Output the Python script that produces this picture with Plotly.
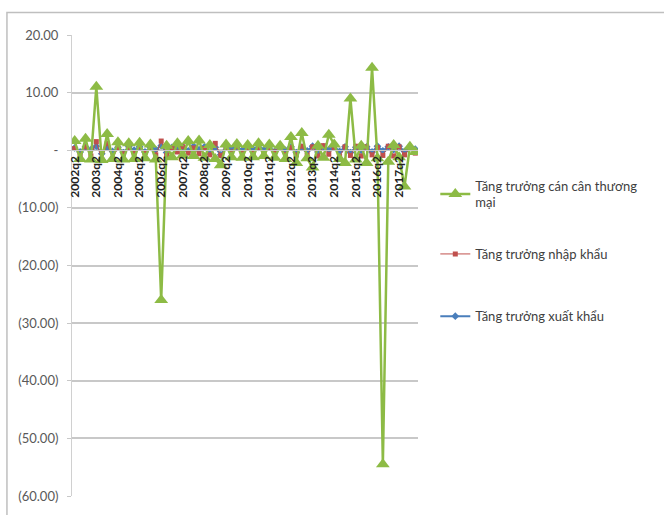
import plotly.graph_objects as go

# Quarterly categories 2002q2 .. 2018q1
years = list(range(2002, 2019))
quarters = [f"{y}q{q}" for y in years for q in (1, 2, 3, 4)]
categories = quarters[1:65]
tick_labels = [c for c in categories if c.endswith("q2")]

# Growth of trade balance, imports and exports
can_can = [1.6, -1.5, 2.0, -1.6, 11.0, -1.7, 2.8, -1.5, 1.4, -1.6, 1.2, -1.5, 1.3, -1.4, 1.0, -1.6,
           -26.0, 0.8, -1.2, 1.2, -0.9, 1.6, -1.0, 1.7, -1.3, 0.9, -1.5, -2.6, 1.0, -1.2, 1.1, -1.3,
           0.9, -1.2, 1.2, -1.0, 1.0, -1.3, 0.8, -1.5, 2.3, -2.2, 3.0, -1.4, -3.0, 0.8, -1.3, 2.7,
           1.0, -1.5, -2.2, 9.0, -1.6, 0.8, -2.2, 14.3, -1.4, -54.5, -2.0, 0.9, -1.2, -6.3, 0.6, -0.3]
nhap_khau = [0.3, -0.8, 0.6, -1.0, 1.5, -1.6, 1.2, -1.4, 0.4, -0.6, 0.5, -0.5, 0.6, -0.4, 0.3, -0.8,
             1.6, -0.9, 0.4, -0.3, 0.6, -0.5, 0.4, -0.6, 0.3, -0.8, 1.2, -0.9, 0.5, -0.3, 0.6, -0.4,
             0.3, -0.5, 0.4, -0.6, 0.5, -0.3, 0.6, -0.7, 0.5, -0.8, 0.7, -0.9, 0.6, -1.0, 0.8, -0.7,
             0.5, -1.1, 0.6, -0.9, 0.7, -1.0, 0.6, -0.8, 0.5, -0.9, 0.7, -1.0, 0.6, -0.8, 0.4, -0.5]
xuat_khau = [0.4, -0.3, 0.6, 0.1, 0.7, -0.6, 0.5, -0.2, 0.5, -0.4, 0.6, 0.0, 0.6, -0.3, 0.5, 0.1,
             0.8, -0.4, 0.5, 0.2, 0.6, -0.1, 0.7, 0.1, 0.6, -0.5, 0.5, -0.8, 0.7, 0.2, 0.6, 0.0,
             0.7, 0.2, 0.5, 0.1, 0.6, -0.2, 0.7, 0.0, 0.6, -0.4, 0.5, -0.1, 0.7, -0.3, 0.6, 0.1,
             0.7, -0.2, 0.6, -0.4, 0.5, 0.0, 0.6, -0.3, 0.7, -0.1, 0.6, 0.1, 0.7, -0.2, 0.6, 0.2]

y_ticks = [20, 10, 0, -10, -20, -30, -40, -50, -60]
y_tick_text = ["20.00", "10.00", "-", "(10.00)", "(20.00)", "(30.00)", "(40.00)", "(50.00)", "(60.00)"]

GREEN = "#8dbb45"
RED = "#c0504d"
BLUE = "#4a7ebb"
FONT = "Lato"

fig = go.Figure()
fig.add_trace(go.Scatter(
    x=categories, y=xuat_khau, name="Tăng trưởng xuất khẩu", mode="lines+markers",
    line=dict(color=BLUE, width=2), marker=dict(symbol="diamond", size=6, color=BLUE),
    legend="legend3"))
fig.add_trace(go.Scatter(
    x=categories, y=nhap_khau, name="Tăng trưởng nhập khẩu", mode="lines+markers",
    line=dict(color=RED, width=1), marker=dict(symbol="square", size=5, color=RED),
    legend="legend2"))
fig.add_trace(go.Scatter(
    x=categories, y=can_can, name="Tăng trưởng cán cân thương<br>mại", mode="lines+markers",
    line=dict(color=GREEN, width=2.5), marker=dict(symbol="triangle-up", size=12, color=GREEN),
    legend="legend"))

legend_style = dict(font=dict(family=FONT, size=13, color="#404040"), bgcolor="rgba(0,0,0,0)",
                    itemwidth=30, xanchor="left", yanchor="middle", x=1.05)

fig.update_layout(
    width=664, height=515,
    margin=dict(l=72, r=246, t=35, b=19),
    paper_bgcolor="white", plot_bgcolor="white",
    font=dict(family=FONT, color="#404040"),
    showlegend=True,
    legend=dict(legend_style, y=0.655),
    legend2=dict(legend_style, y=0.525),
    legend3=dict(legend_style, y=0.39),
    xaxis=dict(
        type="category", range=[-0.5, len(categories) - 0.5],
        anchor="free", position=0.75,
        tickmode="array", tickvals=tick_labels, ticktext=tick_labels,
        tickangle=-90, tickfont=dict(family=FONT, size=12, color="#222222", weight="bold"),
        showline=True, linecolor="#c8c8c8", linewidth=1, showgrid=False, ticks="",
        zeroline=False),
    yaxis=dict(
        range=[-60, 20], tickmode="array", tickvals=y_ticks, ticktext=y_tick_text,
        tickfont=dict(family=FONT, size=13, color="#595959"),
        showgrid=True, gridcolor="#c8c8c8", gridwidth=1.5,
        showline=True, linecolor="#d0d0d0", linewidth=1,
        ticks="outside", ticklen=4, tickcolor="#c8c8c8", ticklabelstandoff=6,
        zeroline=False),
    shapes=[dict(type="rect", xref="paper", yref="paper",
                 x0=-0.188, x1=1.75, y0=-0.06, y1=1.049,
                 line=dict(color="#bfbfbf", width=1.5), fillcolor="rgba(0,0,0,0)", layer="below")],
)

fig.write_html("out.html")
